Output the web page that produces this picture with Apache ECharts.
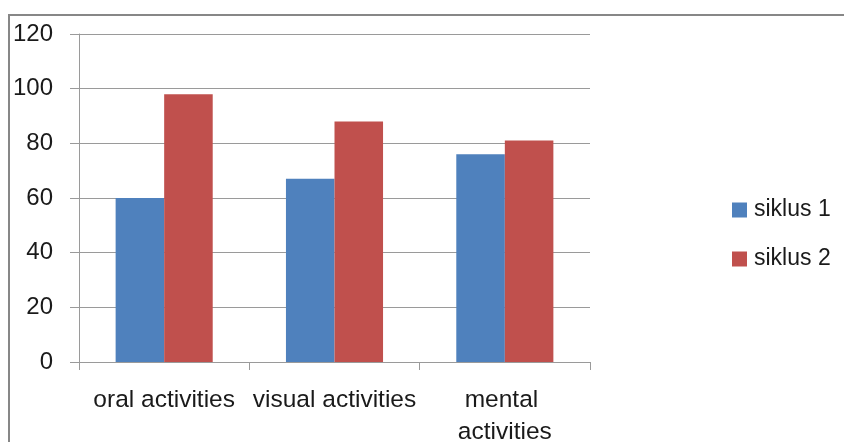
<!DOCTYPE html>
<html><head><meta charset="utf-8">
<script src="https://cdn.jsdelivr.net/npm/echarts@6/dist/echarts.min.js"></script>
<style>html,body{margin:0;padding:0;background:#fff}#c{width:844px;height:442px}</style>
</head><body><div id="c"></div>
<script>
const categories = ['oral activities', 'visual activities', 'mental activities'];
const siklus1 = [60, 67, 76];
const siklus2 = [98, 88, 81];
const seriesNames = ['siklus 1', 'siklus 2'];
const yTicks = {min: 0, max: 120, interval: 20};

const FONT = '"Liberation Sans", Arial, sans-serif';
const chart = echarts.init(document.getElementById('c'), null, {renderer: 'canvas'});
chart.setOption({
  animation: false,
  backgroundColor: '#fff',
  graphic: [{
    type: 'rect', shape: {x: 9, y: 15, width: 850, height: 450},
    style: {fill: 'none', stroke: '#878787', lineWidth: 2}, silent: true, z: 100
  }],
  grid: {left: 79, right: 254, top: 34, bottom: 80, containLabel: false, outerBoundsMode: 'none'},
  legend: {
    orient: 'vertical', left: 727, top: 193,
    itemWidth: 15, itemHeight: 15, itemGap: 25, icon: 'rect',
    textStyle: {fontFamily: FONT, fontSize: 23, color: '#1a1a1a', lineHeight: 24, padding: [0, 0, 0, 2]},
    data: seriesNames
  },
  xAxis: {
    type: 'category', data: categories,
    axisLine: {lineStyle: {color: '#9a9a9a', width: 1}},
    axisTick: {show: true, length: 8, lineStyle: {color: '#9a9a9a'}},
    axisLabel: {fontFamily: FONT, fontSize: 24.5, color: '#1a1a1a', margin: 22, lineHeight: 32,
      width: 172, overflow: 'break', interval: 0}
  },
  yAxis: {
    type: 'value', min: yTicks.min, max: yTicks.max, interval: yTicks.interval,
    axisLine: {show: true, lineStyle: {color: '#9a9a9a', width: 1}},
    axisTick: {show: true, length: 9, lineStyle: {color: '#9a9a9a'}},
    splitLine: {lineStyle: {color: '#9a9a9a', width: 1}},
    axisLabel: {fontFamily: FONT, fontSize: 24, color: '#1a1a1a', margin: 26}
  },
  series: [
    {name: seriesNames[0], type: 'bar', data: siklus1, itemStyle: {color: '#4F81BD'},
      barGap: '0%', barCategoryGap: '43%'},
    {name: seriesNames[1], type: 'bar', data: siklus2, itemStyle: {color: '#C0504D'},
      barGap: '0%', barCategoryGap: '43%'}
  ]
});
</script></body></html>
